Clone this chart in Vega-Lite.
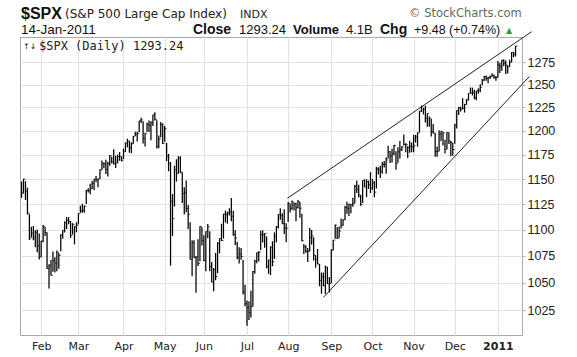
{
  "$schema": "https://vega.github.io/schema/vega-lite/v6.json",
  "width": 502,
  "height": 298,
  "autosize": "none",
  "padding": {"left": 20, "top": 37, "right": 55, "bottom": 22},
  "background": "white",
  "config": {"view": {"stroke": "#a8a8a8", "strokeWidth": 1}},
  "datasets": {
    "spx": [
      {"d":"2010-01-15","t":0,"h":1147.77,"l":1131.39,"c":1136.03},
      {"d":"2010-01-19","t":1,"h":1150.45,"l":1135.77,"c":1150.23},
      {"d":"2010-01-20","t":2,"h":1147.95,"l":1129.25,"c":1138.04},
      {"d":"2010-01-21","t":3,"h":1141.58,"l":1114.84,"c":1116.48},
      {"d":"2010-01-22","t":4,"h":1115.49,"l":1090.18,"c":1091.76},
      {"d":"2010-01-25","t":5,"h":1102.97,"l":1092.63,"c":1096.78},
      {"d":"2010-01-26","t":6,"h":1103.69,"l":1089.86,"c":1092.17},
      {"d":"2010-01-27","t":7,"h":1099.51,"l":1083.11,"c":1097.50},
      {"d":"2010-01-28","t":8,"h":1100.22,"l":1078.46,"c":1084.53},
      {"d":"2010-01-29","t":9,"h":1096.45,"l":1071.59,"c":1073.87},
      {"d":"2010-02-01","t":10,"h":1089.38,"l":1073.89,"c":1089.19},
      {"d":"2010-02-02","t":11,"h":1104.73,"l":1087.96,"c":1103.32},
      {"d":"2010-02-03","t":12,"h":1102.72,"l":1093.97,"c":1097.28},
      {"d":"2010-02-04","t":13,"h":1097.25,"l":1062.78,"c":1063.11},
      {"d":"2010-02-05","t":14,"h":1067.13,"l":1044.50,"c":1066.19},
      {"d":"2010-02-08","t":15,"h":1071.20,"l":1056.51,"c":1056.74},
      {"d":"2010-02-09","t":16,"h":1079.28,"l":1060.06,"c":1070.52},
      {"d":"2010-02-10","t":17,"h":1073.67,"l":1059.34,"c":1068.13},
      {"d":"2010-02-11","t":18,"h":1080.04,"l":1060.59,"c":1078.47},
      {"d":"2010-02-12","t":19,"h":1077.81,"l":1062.97,"c":1075.51},
      {"d":"2010-02-16","t":20,"h":1095.67,"l":1079.30,"c":1094.87},
      {"d":"2010-02-17","t":21,"h":1099.51,"l":1091.23,"c":1099.51},
      {"d":"2010-02-18","t":22,"h":1108.24,"l":1097.48,"c":1106.75},
      {"d":"2010-02-19","t":23,"h":1112.42,"l":1100.80,"c":1109.17},
      {"d":"2010-02-22","t":24,"h":1112.29,"l":1105.38,"c":1108.01},
      {"d":"2010-02-23","t":25,"h":1108.58,"l":1092.18,"c":1094.60},
      {"d":"2010-02-24","t":26,"h":1106.42,"l":1095.50,"c":1105.24},
      {"d":"2010-02-25","t":27,"h":1103.50,"l":1086.02,"c":1102.94},
      {"d":"2010-02-26","t":28,"h":1107.24,"l":1097.56,"c":1104.49},
      {"d":"2010-03-01","t":29,"h":1116.02,"l":1105.36,"c":1115.71},
      {"d":"2010-03-02","t":30,"h":1123.46,"l":1116.51,"c":1118.31},
      {"d":"2010-03-03","t":31,"h":1125.44,"l":1116.58,"c":1118.79},
      {"d":"2010-03-04","t":32,"h":1123.73,"l":1116.66,"c":1122.97},
      {"d":"2010-03-05","t":33,"h":1139.38,"l":1125.12,"c":1138.70},
      {"d":"2010-03-08","t":34,"h":1141.05,"l":1136.77,"c":1138.50},
      {"d":"2010-03-09","t":35,"h":1145.37,"l":1134.90,"c":1140.45},
      {"d":"2010-03-10","t":36,"h":1148.26,"l":1140.09,"c":1145.61},
      {"d":"2010-03-11","t":37,"h":1150.24,"l":1138.99,"c":1150.24},
      {"d":"2010-03-12","t":38,"h":1153.41,"l":1146.97,"c":1149.99},
      {"d":"2010-03-15","t":39,"h":1150.51,"l":1141.99,"c":1150.51},
      {"d":"2010-03-16","t":40,"h":1160.28,"l":1150.35,"c":1159.46},
      {"d":"2010-03-17","t":41,"h":1169.20,"l":1159.46,"c":1166.21},
      {"d":"2010-03-18","t":42,"h":1167.09,"l":1161.16,"c":1165.83},
      {"d":"2010-03-19","t":43,"h":1169.84,"l":1155.33,"c":1159.90},
      {"d":"2010-03-22","t":44,"h":1167.82,"l":1152.88,"c":1165.81},
      {"d":"2010-03-23","t":45,"h":1174.72,"l":1163.83,"c":1174.17},
      {"d":"2010-03-24","t":46,"h":1173.04,"l":1166.01,"c":1167.72},
      {"d":"2010-03-25","t":47,"h":1180.69,"l":1165.09,"c":1165.73},
      {"d":"2010-03-26","t":48,"h":1173.93,"l":1161.48,"c":1166.59},
      {"d":"2010-03-29","t":49,"h":1175.26,"l":1166.59,"c":1173.22},
      {"d":"2010-03-30","t":50,"h":1177.83,"l":1168.92,"c":1173.27},
      {"d":"2010-03-31","t":51,"h":1173.27,"l":1168.12,"c":1169.43},
      {"d":"2010-04-01","t":52,"h":1181.43,"l":1170.69,"c":1178.10},
      {"d":"2010-04-05","t":53,"h":1187.73,"l":1178.07,"c":1187.44},
      {"d":"2010-04-06","t":54,"h":1191.80,"l":1182.77,"c":1189.44},
      {"d":"2010-04-07","t":55,"h":1189.60,"l":1177.25,"c":1182.45},
      {"d":"2010-04-08","t":56,"h":1187.97,"l":1176.59,"c":1186.44},
      {"d":"2010-04-09","t":57,"h":1194.66,"l":1186.44,"c":1194.37},
      {"d":"2010-04-12","t":58,"h":1199.20,"l":1194.71,"c":1196.48},
      {"d":"2010-04-13","t":59,"h":1199.04,"l":1188.82,"c":1197.30},
      {"d":"2010-04-14","t":60,"h":1210.65,"l":1198.69,"c":1210.65},
      {"d":"2010-04-15","t":61,"h":1213.92,"l":1208.50,"c":1211.67},
      {"d":"2010-04-16","t":62,"h":1210.17,"l":1186.77,"c":1192.13},
      {"d":"2010-04-19","t":63,"h":1197.87,"l":1183.68,"c":1197.52},
      {"d":"2010-04-20","t":64,"h":1208.58,"l":1199.04,"c":1207.17},
      {"d":"2010-04-21","t":65,"h":1210.99,"l":1198.85,"c":1205.94},
      {"d":"2010-04-22","t":66,"h":1210.27,"l":1190.19,"c":1208.67},
      {"d":"2010-04-23","t":67,"h":1217.28,"l":1205.10,"c":1217.28},
      {"d":"2010-04-26","t":68,"h":1219.80,"l":1211.07,"c":1212.05},
      {"d":"2010-04-27","t":69,"h":1211.38,"l":1181.62,"c":1183.71},
      {"d":"2010-04-28","t":70,"h":1195.05,"l":1181.81,"c":1191.36},
      {"d":"2010-04-29","t":71,"h":1209.36,"l":1193.38,"c":1206.78},
      {"d":"2010-04-30","t":72,"h":1207.99,"l":1186.32,"c":1186.69},
      {"d":"2010-05-03","t":73,"h":1205.13,"l":1188.58,"c":1202.26},
      {"d":"2010-05-04","t":74,"h":1187.56,"l":1168.55,"c":1173.60},
      {"d":"2010-05-05","t":75,"h":1175.95,"l":1158.15,"c":1165.87},
      {"d":"2010-05-06","t":76,"h":1167.58,"l":1065.79,"c":1128.15},
      {"d":"2010-05-07","t":77,"h":1135.13,"l":1094.15,"c":1110.88},
      {"d":"2010-05-10","t":78,"h":1163.85,"l":1122.73,"c":1159.73},
      {"d":"2010-05-11","t":79,"h":1170.48,"l":1147.71,"c":1155.79},
      {"d":"2010-05-12","t":80,"h":1173.57,"l":1155.79,"c":1171.67},
      {"d":"2010-05-13","t":81,"h":1173.57,"l":1156.09,"c":1157.44},
      {"d":"2010-05-14","t":82,"h":1157.19,"l":1126.14,"c":1135.68},
      {"d":"2010-05-17","t":83,"h":1141.88,"l":1114.96,"c":1136.94},
      {"d":"2010-05-18","t":84,"h":1148.66,"l":1117.20,"c":1120.80},
      {"d":"2010-05-19","t":85,"h":1124.27,"l":1100.66,"c":1115.05},
      {"d":"2010-05-20","t":86,"h":1107.34,"l":1071.58,"c":1071.59},
      {"d":"2010-05-21","t":87,"h":1089.95,"l":1055.90,"c":1087.69},
      {"d":"2010-05-24","t":88,"h":1089.86,"l":1072.70,"c":1073.65},
      {"d":"2010-05-25","t":89,"h":1074.75,"l":1040.78,"c":1074.03},
      {"d":"2010-05-26","t":90,"h":1090.75,"l":1065.59,"c":1067.95},
      {"d":"2010-05-27","t":91,"h":1103.52,"l":1069.95,"c":1103.06},
      {"d":"2010-05-28","t":92,"h":1102.51,"l":1084.78,"c":1089.41},
      {"d":"2010-06-01","t":93,"h":1094.77,"l":1069.89,"c":1070.71},
      {"d":"2010-06-02","t":94,"h":1098.43,"l":1060.50,"c":1098.38},
      {"d":"2010-06-03","t":95,"h":1105.67,"l":1091.81,"c":1102.83},
      {"d":"2010-06-04","t":96,"h":1098.56,"l":1060.50,"c":1064.88},
      {"d":"2010-06-07","t":97,"h":1069.31,"l":1050.34,"c":1050.47},
      {"d":"2010-06-08","t":98,"h":1063.63,"l":1042.17,"c":1062.00},
      {"d":"2010-06-09","t":99,"h":1077.74,"l":1052.25,"c":1055.69},
      {"d":"2010-06-10","t":100,"h":1088.16,"l":1058.78,"c":1086.84},
      {"d":"2010-06-11","t":101,"h":1091.62,"l":1077.42,"c":1091.60},
      {"d":"2010-06-14","t":102,"h":1105.87,"l":1089.30,"c":1089.63},
      {"d":"2010-06-15","t":103,"h":1115.59,"l":1091.52,"c":1115.23},
      {"d":"2010-06-16","t":104,"h":1118.74,"l":1107.13,"c":1114.61},
      {"d":"2010-06-17","t":105,"h":1117.72,"l":1105.87,"c":1116.04},
      {"d":"2010-06-18","t":106,"h":1121.01,"l":1113.93,"c":1117.51},
      {"d":"2010-06-21","t":107,"h":1131.23,"l":1108.24,"c":1113.20},
      {"d":"2010-06-22","t":108,"h":1118.50,"l":1094.18,"c":1095.31},
      {"d":"2010-06-23","t":109,"h":1099.64,"l":1085.31,"c":1092.04},
      {"d":"2010-06-24","t":110,"h":1088.57,"l":1071.86,"c":1073.69},
      {"d":"2010-06-25","t":111,"h":1083.11,"l":1067.89,"c":1076.76},
      {"d":"2010-06-28","t":112,"h":1082.60,"l":1071.45,"c":1074.57},
      {"d":"2010-06-29","t":113,"h":1071.06,"l":1039.04,"c":1041.24},
      {"d":"2010-06-30","t":114,"h":1048.08,"l":1028.33,"c":1030.71},
      {"d":"2010-07-01","t":115,"h":1033.58,"l":1010.91,"c":1027.37},
      {"d":"2010-07-02","t":116,"h":1032.95,"l":1015.93,"c":1022.58},
      {"d":"2010-07-06","t":117,"h":1042.50,"l":1018.35,"c":1028.06},
      {"d":"2010-07-07","t":118,"h":1060.89,"l":1028.09,"c":1060.27},
      {"d":"2010-07-08","t":119,"h":1071.25,"l":1058.24,"c":1070.25},
      {"d":"2010-07-09","t":120,"h":1078.16,"l":1068.10,"c":1077.96},
      {"d":"2010-07-12","t":121,"h":1079.50,"l":1069.78,"c":1078.75},
      {"d":"2010-07-13","t":122,"h":1099.08,"l":1080.53,"c":1095.34},
      {"d":"2010-07-14","t":123,"h":1099.46,"l":1087.68,"c":1095.17},
      {"d":"2010-07-15","t":124,"h":1096.56,"l":1082.72,"c":1096.48},
      {"d":"2010-07-16","t":125,"h":1093.67,"l":1063.32,"c":1064.88},
      {"d":"2010-07-19","t":126,"h":1071.25,"l":1058.20,"c":1071.25},
      {"d":"2010-07-20","t":127,"h":1083.94,"l":1056.88,"c":1083.48},
      {"d":"2010-07-21","t":128,"h":1088.96,"l":1065.25,"c":1069.59},
      {"d":"2010-07-22","t":129,"h":1097.50,"l":1072.14,"c":1093.67},
      {"d":"2010-07-23","t":130,"h":1103.73,"l":1087.88,"c":1102.66},
      {"d":"2010-07-26","t":131,"h":1115.01,"l":1101.30,"c":1115.01},
      {"d":"2010-07-27","t":132,"h":1120.95,"l":1109.78,"c":1113.84},
      {"d":"2010-07-28","t":133,"h":1116.11,"l":1105.42,"c":1106.13},
      {"d":"2010-07-29","t":134,"h":1119.95,"l":1095.92,"c":1101.53},
      {"d":"2010-07-30","t":135,"h":1106.44,"l":1088.01,"c":1101.60},
      {"d":"2010-08-02","t":136,"h":1127.30,"l":1107.66,"c":1125.86},
      {"d":"2010-08-03","t":137,"h":1125.44,"l":1116.76,"c":1120.46},
      {"d":"2010-08-04","t":138,"h":1128.75,"l":1119.46,"c":1127.24},
      {"d":"2010-08-05","t":139,"h":1126.56,"l":1118.81,"c":1125.81},
      {"d":"2010-08-06","t":140,"h":1126.56,"l":1108.22,"c":1121.64},
      {"d":"2010-08-09","t":141,"h":1129.24,"l":1120.91,"c":1127.79},
      {"d":"2010-08-10","t":142,"h":1127.16,"l":1111.58,"c":1121.06},
      {"d":"2010-08-11","t":143,"h":1115.58,"l":1088.99,"c":1089.47},
      {"d":"2010-08-12","t":144,"h":1086.32,"l":1076.69,"c":1083.61},
      {"d":"2010-08-13","t":145,"h":1085.20,"l":1078.00,"c":1079.25},
      {"d":"2010-08-16","t":146,"h":1082.61,"l":1069.21,"c":1079.38},
      {"d":"2010-08-17","t":147,"h":1101.73,"l":1079.38,"c":1092.54},
      {"d":"2010-08-18","t":148,"h":1099.77,"l":1085.76,"c":1094.16},
      {"d":"2010-08-19","t":149,"h":1092.84,"l":1070.66,"c":1075.63},
      {"d":"2010-08-20","t":150,"h":1075.63,"l":1063.91,"c":1071.69},
      {"d":"2010-08-23","t":151,"h":1081.58,"l":1067.08,"c":1067.36},
      {"d":"2010-08-24","t":152,"h":1067.36,"l":1046.68,"c":1051.87},
      {"d":"2010-08-25","t":153,"h":1059.38,"l":1039.83,"c":1055.33},
      {"d":"2010-08-26","t":154,"h":1059.29,"l":1046.62,"c":1047.22},
      {"d":"2010-08-27","t":155,"h":1065.85,"l":1039.70,"c":1064.59},
      {"d":"2010-08-30","t":156,"h":1064.47,"l":1048.79,"c":1048.92},
      {"d":"2010-08-31","t":157,"h":1055.14,"l":1040.88,"c":1049.33},
      {"d":"2010-09-01","t":158,"h":1081.30,"l":1049.72,"c":1080.29},
      {"d":"2010-09-02","t":159,"h":1090.10,"l":1080.39,"c":1090.10},
      {"d":"2010-09-03","t":160,"h":1105.10,"l":1091.40,"c":1104.51},
      {"d":"2010-09-07","t":161,"h":1102.60,"l":1091.15,"c":1091.84},
      {"d":"2010-09-08","t":162,"h":1103.26,"l":1092.24,"c":1098.87},
      {"d":"2010-09-09","t":163,"h":1110.88,"l":1101.15,"c":1104.18},
      {"d":"2010-09-10","t":164,"h":1110.23,"l":1103.92,"c":1109.55},
      {"d":"2010-09-13","t":165,"h":1123.35,"l":1109.58,"c":1121.90},
      {"d":"2010-09-14","t":166,"h":1127.36,"l":1115.58,"c":1121.10},
      {"d":"2010-09-15","t":167,"h":1125.39,"l":1113.46,"c":1125.07},
      {"d":"2010-09-16","t":168,"h":1125.07,"l":1116.08,"c":1124.66},
      {"d":"2010-09-17","t":169,"h":1131.47,"l":1122.43,"c":1125.59},
      {"d":"2010-09-20","t":170,"h":1144.38,"l":1126.06,"c":1142.71},
      {"d":"2010-09-21","t":171,"h":1148.59,"l":1136.22,"c":1139.78},
      {"d":"2010-09-22","t":172,"h":1144.38,"l":1131.58,"c":1134.28},
      {"d":"2010-09-23","t":173,"h":1134.15,"l":1123.53,"c":1124.83},
      {"d":"2010-09-24","t":174,"h":1148.90,"l":1126.20,"c":1148.67},
      {"d":"2010-09-27","t":175,"h":1149.92,"l":1142.00,"c":1142.16},
      {"d":"2010-09-28","t":176,"h":1150.00,"l":1132.09,"c":1147.70},
      {"d":"2010-09-29","t":177,"h":1148.63,"l":1140.26,"c":1144.73},
      {"d":"2010-09-30","t":178,"h":1157.16,"l":1136.08,"c":1141.20},
      {"d":"2010-10-01","t":179,"h":1150.30,"l":1139.42,"c":1146.24},
      {"d":"2010-10-04","t":180,"h":1148.16,"l":1131.87,"c":1137.03},
      {"d":"2010-10-05","t":181,"h":1162.76,"l":1140.68,"c":1160.75},
      {"d":"2010-10-06","t":182,"h":1162.33,"l":1154.85,"c":1159.97},
      {"d":"2010-10-07","t":183,"h":1163.87,"l":1151.41,"c":1158.06},
      {"d":"2010-10-08","t":184,"h":1167.73,"l":1155.58,"c":1165.15},
      {"d":"2010-10-11","t":185,"h":1168.68,"l":1162.02,"c":1165.32},
      {"d":"2010-10-12","t":186,"h":1172.58,"l":1155.71,"c":1169.77},
      {"d":"2010-10-13","t":187,"h":1184.38,"l":1171.32,"c":1178.10},
      {"d":"2010-10-14","t":188,"h":1178.89,"l":1166.71,"c":1173.81},
      {"d":"2010-10-15","t":189,"h":1181.20,"l":1167.12,"c":1176.19},
      {"d":"2010-10-18","t":190,"h":1185.53,"l":1174.55,"c":1184.71},
      {"d":"2010-10-19","t":191,"h":1178.78,"l":1159.71,"c":1165.90},
      {"d":"2010-10-20","t":192,"h":1182.94,"l":1166.74,"c":1178.17},
      {"d":"2010-10-21","t":193,"h":1189.43,"l":1171.17,"c":1180.26},
      {"d":"2010-10-22","t":194,"h":1183.93,"l":1178.99,"c":1183.08},
      {"d":"2010-10-25","t":195,"h":1196.14,"l":1184.74,"c":1185.62},
      {"d":"2010-10-26","t":196,"h":1187.11,"l":1177.72,"c":1185.64},
      {"d":"2010-10-27","t":197,"h":1183.80,"l":1171.70,"c":1182.45},
      {"d":"2010-10-28","t":198,"h":1189.53,"l":1177.10,"c":1183.78},
      {"d":"2010-10-29","t":199,"h":1187.88,"l":1177.72,"c":1183.26},
      {"d":"2010-11-01","t":200,"h":1195.81,"l":1177.65,"c":1184.38},
      {"d":"2010-11-02","t":201,"h":1195.88,"l":1187.86,"c":1193.57},
      {"d":"2010-11-03","t":202,"h":1198.30,"l":1183.56,"c":1197.96},
      {"d":"2010-11-04","t":203,"h":1221.25,"l":1198.34,"c":1221.06},
      {"d":"2010-11-05","t":204,"h":1227.08,"l":1220.29,"c":1225.85},
      {"d":"2010-11-08","t":205,"h":1224.57,"l":1217.55,"c":1223.25},
      {"d":"2010-11-09","t":206,"h":1226.84,"l":1208.94,"c":1213.40},
      {"d":"2010-11-10","t":207,"h":1218.75,"l":1204.33,"c":1218.71},
      {"d":"2010-11-11","t":208,"h":1215.45,"l":1204.49,"c":1213.54},
      {"d":"2010-11-12","t":209,"h":1213.04,"l":1194.08,"c":1199.21},
      {"d":"2010-11-15","t":210,"h":1207.43,"l":1197.15,"c":1197.75},
      {"d":"2010-11-16","t":211,"h":1197.75,"l":1173.00,"c":1178.34},
      {"d":"2010-11-17","t":212,"h":1183.56,"l":1173.00,"c":1178.59},
      {"d":"2010-11-18","t":213,"h":1200.65,"l":1178.59,"c":1196.69},
      {"d":"2010-11-19","t":214,"h":1199.97,"l":1189.44,"c":1199.73},
      {"d":"2010-11-22","t":215,"h":1198.94,"l":1184.58,"c":1197.84},
      {"d":"2010-11-23","t":216,"h":1190.83,"l":1176.48,"c":1180.73},
      {"d":"2010-11-24","t":217,"h":1198.46,"l":1180.73,"c":1198.35},
      {"d":"2010-11-26","t":218,"h":1198.35,"l":1186.17,"c":1189.40},
      {"d":"2010-11-29","t":219,"h":1189.40,"l":1173.64,"c":1187.76},
      {"d":"2010-11-30","t":220,"h":1187.40,"l":1174.14,"c":1180.55},
      {"d":"2010-12-01","t":221,"h":1207.61,"l":1186.60,"c":1206.07},
      {"d":"2010-12-02","t":222,"h":1221.89,"l":1202.60,"c":1221.53},
      {"d":"2010-12-03","t":223,"h":1225.57,"l":1216.82,"c":1224.71},
      {"d":"2010-12-06","t":224,"h":1225.73,"l":1220.67,"c":1223.12},
      {"d":"2010-12-07","t":225,"h":1235.05,"l":1223.25,"c":1223.75},
      {"d":"2010-12-08","t":226,"h":1228.93,"l":1219.50,"c":1228.28},
      {"d":"2010-12-09","t":227,"h":1234.25,"l":1228.10,"c":1233.00},
      {"d":"2010-12-10","t":228,"h":1240.40,"l":1232.58,"c":1240.40},
      {"d":"2010-12-13","t":229,"h":1246.73,"l":1240.34,"c":1240.46},
      {"d":"2010-12-14","t":230,"h":1246.59,"l":1238.17,"c":1241.59},
      {"d":"2010-12-15","t":231,"h":1244.25,"l":1234.01,"c":1235.23},
      {"d":"2010-12-16","t":232,"h":1243.23,"l":1232.85,"c":1242.87},
      {"d":"2010-12-17","t":233,"h":1245.81,"l":1239.87,"c":1243.91},
      {"d":"2010-12-20","t":234,"h":1250.43,"l":1241.51,"c":1247.08},
      {"d":"2010-12-21","t":235,"h":1255.99,"l":1249.28,"c":1254.60},
      {"d":"2010-12-22","t":236,"h":1259.39,"l":1254.19,"c":1258.84},
      {"d":"2010-12-23","t":237,"h":1260.04,"l":1254.21,"c":1256.77},
      {"d":"2010-12-27","t":238,"h":1258.59,"l":1251.48,"c":1257.54},
      {"d":"2010-12-28","t":239,"h":1259.90,"l":1256.22,"c":1258.51},
      {"d":"2010-12-29","t":240,"h":1262.60,"l":1258.51,"c":1259.78},
      {"d":"2010-12-30","t":241,"h":1261.13,"l":1256.32,"c":1257.88},
      {"d":"2010-12-31","t":242,"h":1259.38,"l":1254.19,"c":1257.64},
      {"d":"2011-01-03","t":243,"h":1276.17,"l":1257.62,"c":1271.87},
      {"d":"2011-01-04","t":244,"h":1274.12,"l":1262.66,"c":1270.20},
      {"d":"2011-01-05","t":245,"h":1277.63,"l":1265.36,"c":1276.56},
      {"d":"2011-01-06","t":246,"h":1278.17,"l":1270.43,"c":1273.85},
      {"d":"2011-01-07","t":247,"h":1276.83,"l":1261.70,"c":1271.50},
      {"d":"2011-01-10","t":248,"h":1271.52,"l":1262.18,"c":1269.75},
      {"d":"2011-01-11","t":249,"h":1277.58,"l":1269.62,"c":1274.48},
      {"d":"2011-01-12","t":250,"h":1286.17,"l":1275.04,"c":1285.96},
      {"d":"2011-01-13","t":251,"h":1286.28,"l":1280.47,"c":1283.76},
      {"d":"2011-01-14","t":252,"h":1293.24,"l":1281.24,"c":1293.24}
    ],
    "channel": [
      {"line": "upper", "t1": 135.6, "p1": 1130.9, "t2": 260.2, "p2": 1309.5},
      {"line": "lower", "t1": 154.0, "p1": 1036.5, "t2": 259.0, "p2": 1258.7}
    ]
  },
  "layer": [
    {
      "data": {"name": "spx"},
      "mark": {"type": "rule", "color": "#000000", "strokeWidth": 1.25},
      "encoding": {
        "x": {
          "field": "t", "type": "quantitative",
          "scale": {"domain": [-0.8, 255.3], "nice": false, "zero": false},
          "axis": {
            "values": [10, 29, 52, 73, 93, 115, 136, 158, 179, 200, 221, 243],
            "labelExpr": "['Feb','Mar','Apr','May','Jun','Jul','Aug','Sep','Oct','Nov','Dec','2011'][indexof([10,29,52,73,93,115,136,158,179,200,221,243], datum.value)]",
            "title": null,
            "grid": true,
            "gridColor": "#e2e2e2",
            "gridWidth": 1,
            "domain": false,
            "ticks": false,
            "labelPadding": 5,
            "labelFont": "DejaVu Sans",
            "labelFontSize": 11,
            "labelColor": "#222222",
            "labelFontWeight": {"condition": {"test": "datum.value == 243", "value": "bold"}, "value": "normal"},
            "labelFlush": false,
            "labelOverlap": false
          }
        },
        "y": {
          "field": "l", "type": "quantitative",
          "scale": {"type": "log", "domain": [1002.7, 1303.4], "nice": false, "zero": false},
          "axis": {
            "orient": "right",
            "values": [1025, 1050, 1075, 1100, 1125, 1150, 1175, 1200, 1225, 1250, 1275],
            "format": "d",
            "title": null,
            "grid": true,
            "gridColor": "#e2e2e2",
            "gridWidth": 1,
            "domain": false,
            "ticks": true,
            "tickSize": 3,
            "tickColor": "#b0b0b0",
            "labelPadding": 2,
            "labelFont": "Liberation Sans",
            "labelFontSize": 12.5,
            "labelColor": "#222222",
            "labelFlush": false,
            "labelOverlap": false
          }
        },
        "y2": {"field": "h"}
      }
    },
    {
      "data": {"name": "spx"},
      "mark": {"type": "tick", "orient": "horizontal", "color": "#000000", "size": 2, "thickness": 1, "xOffset": 1},
      "encoding": {
        "x": {"field": "t", "type": "quantitative"},
        "y": {"field": "c", "type": "quantitative"}
      }
    },
    {
      "data": {"name": "channel"},
      "mark": {"type": "rule", "color": "#222222", "strokeWidth": 1, "clip": false},
      "encoding": {
        "x": {"field": "t1", "type": "quantitative"},
        "x2": {"field": "t2"},
        "y": {"field": "p1", "type": "quantitative"},
        "y2": {"field": "p2"}
      }
    },
    {
      "data": {"values": [{}]},
      "mark": {"type": "text", "text": "$SPX", "x": 1, "y": -18.5, "align": "left", "baseline": "alphabetic", "font": "Liberation Sans", "fontSize": 16, "fontWeight": "bold", "color": "#111111"}
    },
    {
      "data": {"values": [{}]},
      "mark": {"type": "text", "text": "(S&P 500 Large Cap Index)", "x": 45, "y": -19, "align": "left", "baseline": "alphabetic", "font": "DejaVu Sans", "fontSize": 12, "color": "#222222"}
    },
    {
      "data": {"values": [{}]},
      "mark": {"type": "text", "text": "INDX", "x": 220, "y": -19, "align": "left", "baseline": "alphabetic", "font": "DejaVu Sans", "fontSize": 11, "color": "#222222"}
    },
    {
      "data": {"values": [{}]},
      "mark": {"type": "text", "text": "© StockCharts.com", "x": 389, "y": -20, "align": "left", "baseline": "alphabetic", "font": "DejaVu Sans", "fontSize": 11.5, "color": "#666666"}
    },
    {
      "data": {"values": [{}]},
      "mark": {"type": "text", "text": "14-Jan-2011", "x": 1, "y": -3.5, "align": "left", "baseline": "alphabetic", "font": "Liberation Sans", "fontSize": 13.5, "color": "#111111"}
    },
    {
      "data": {"values": [{}]},
      "mark": {"type": "text", "text": "Close", "x": 173, "y": -3, "align": "left", "baseline": "alphabetic", "font": "Liberation Sans", "fontSize": 14, "fontWeight": "bold", "color": "#111111"}
    },
    {
      "data": {"values": [{}]},
      "mark": {"type": "text", "text": "1293.24", "x": 219, "y": -3, "align": "left", "baseline": "alphabetic", "font": "Liberation Sans", "fontSize": 13, "color": "#111111"}
    },
    {
      "data": {"values": [{}]},
      "mark": {"type": "text", "text": "Volume", "x": 273, "y": -3, "align": "left", "baseline": "alphabetic", "font": "Liberation Sans", "fontSize": 13, "fontWeight": "bold", "color": "#111111"}
    },
    {
      "data": {"values": [{}]},
      "mark": {"type": "text", "text": "4.1B", "x": 326, "y": -3, "align": "left", "baseline": "alphabetic", "font": "Liberation Sans", "fontSize": 13, "color": "#111111"}
    },
    {
      "data": {"values": [{}]},
      "mark": {"type": "text", "text": "Chg", "x": 360, "y": -3, "align": "left", "baseline": "alphabetic", "font": "Liberation Sans", "fontSize": 14, "fontWeight": "bold", "color": "#111111"}
    },
    {
      "data": {"values": [{}]},
      "mark": {"type": "text", "text": "+9.48 (+0.74%)", "x": 394, "y": -3, "align": "left", "baseline": "alphabetic", "font": "Liberation Sans", "fontSize": 12.5, "color": "#111111"}
    },
    {
      "data": {"values": [{}]},
      "mark": {"type": "text", "text": "▲", "x": 486, "y": -4, "align": "left", "baseline": "alphabetic", "font": "DejaVu Sans", "fontSize": 8, "color": "#2e9e3a"}
    },
    {
      "data": {"values": [{}]},
      "mark": {"type": "text", "text": "↑↓", "x": 3, "y": 12, "align": "left", "baseline": "alphabetic", "font": "DejaVu Sans", "fontSize": 8, "color": "#222222"}
    },
    {
      "data": {"values": [{}]},
      "mark": {"type": "text", "text": "$SPX (Daily) 1293.24", "x": 19, "y": 13, "align": "left", "baseline": "alphabetic", "font": "DejaVu Sans Mono", "fontSize": 12, "color": "#222222"}
    }
  ]
}
